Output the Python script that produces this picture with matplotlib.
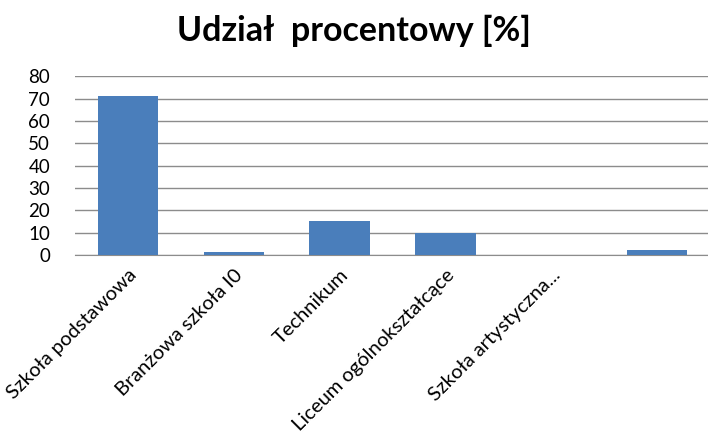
import matplotlib
matplotlib.use("Agg")
import matplotlib.pyplot as plt

categories = [
    "Szkoła podstawowa",
    "Branżowa szkoła I0",
    "Technikum",
    "Liceum ogólnokształcące",
    "Szkoła artystyczna...",
    "",
]
values = [71, 1.3, 15, 10, 0, 2]
yticks = [0, 10, 20, 30, 40, 50, 60, 70, 80]

BAR_COLOR = "#4a7ebb"
GRID_COLOR = "#8c8c8c"

plt.rcParams["font.family"] = ["Lato", "DejaVu Sans"]

fig = plt.figure(figsize=(7.08, 4.38), dpi=100)
ax = fig.add_axes([0.106, 0.418, 0.897, 0.408])

x = list(range(len(categories)))
ax.bar(x, values, width=0.57, color=BAR_COLOR, zorder=3)

ax.set_xlim(-0.5, len(categories) - 0.5)
ax.set_ylim(0, 80)
ax.set_yticks(yticks)
ax.set_yticklabels([str(v) for v in yticks], fontsize=13.5)
ax.yaxis.grid(True, color=GRID_COLOR, linewidth=1, zorder=0)

ax.set_xticks(x)
ax.set_xticklabels(categories, rotation=45, ha="right", va="top",
                   rotation_mode="anchor", fontsize=14.5)
ax.tick_params(axis="x", length=0, pad=8)
ax.tick_params(axis="y", length=0, pad=18)

for side in ["left", "right", "top"]:
    ax.spines[side].set_visible(False)
ax.spines["bottom"].set_color(GRID_COLOR)

fig.text(0.5, 0.93, "Udział  procentowy [%]", ha="center", va="center",
         fontsize=24.5, fontweight="bold")

fig.savefig("out.png", dpi=100)
